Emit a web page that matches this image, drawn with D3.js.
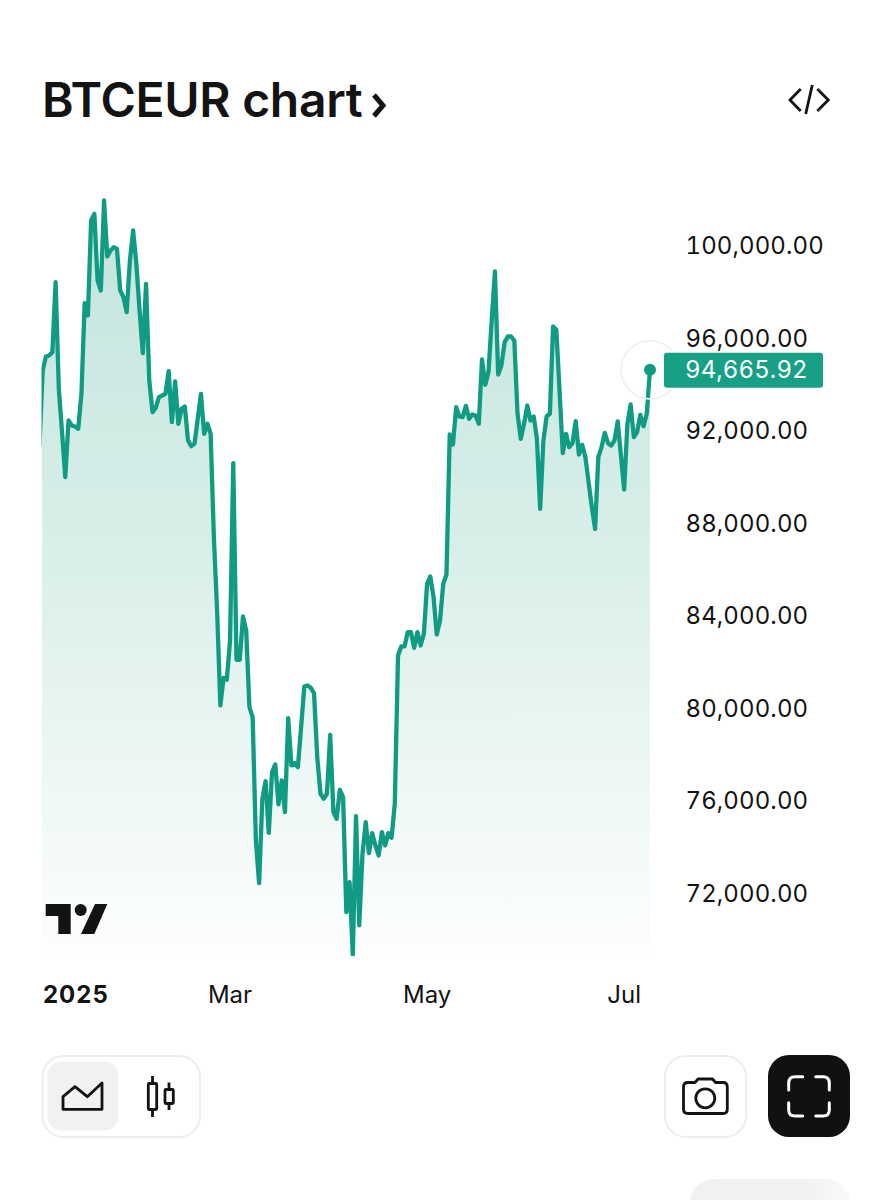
<!DOCTYPE html>
<html>
<head>
<meta charset="utf-8">
<script src="https://cdnjs.cloudflare.com/ajax/libs/d3/7.8.5/d3.min.js"></script>
<style>
  html, body { margin: 0; padding: 0; background: #fff; }
  svg { display: block; }
  text { font-family: Inter, "Noto Sans", sans-serif; fill: #131313; }
</style>
</head>
<body>
<svg id="chart"></svg>
<script>
// daily closes, first one sits just outside the left edge
const firstDay = new Date(2025, 0, 1);
const closes = [
  91300,
  94596, 95201, 95244, 95388, 98415, 93803, 91929, 89983, 92434, 92217,
  92174, 92073, 93587, 97507, 96974, 101081, 101370, 98487, 98055, 101946,
  99525, 99784, 99928, 99856, 98055, 97766, 97118, 99352, 100649, 99208,
  97190, 95345, 98343, 94163, 92794, 92981, 93443, 93515, 93587, 94567,
  92362, 94120, 92290, 92938, 93039, 91569, 91324, 91425, 92506, 93587,
  91857, 92290, 91857, 87374, 84217, 80110, 81306, 81220, 82921, 90588,
  82085, 82085, 83958, 83353, 80038, 79606, 74273, 72428, 76074, 76838,
  74604, 77227, 77559, 75830, 76867, 75498, 79562, 77516, 77617, 77444,
  79173, 80932, 80975, 80874, 80643, 77876, 76291, 76074, 76291, 78842,
  75498, 75210, 76464, 76146, 71174, 72471, 69344, 75325, 70597, 73696,
  75066, 73725, 74590, 74057, 73624, 74633, 74057, 74590, 74388, 75858,
  82272, 82661, 82661, 83281, 83281, 82603, 83281, 82704, 83209, 85371,
  85688, 84794, 83180, 83785, 85371, 85774, 91828, 91395, 93009, 92606,
  92577, 93067, 92505, 92692, 92649, 92289, 95070, 93975, 94523, 96757,
  98875, 94422, 94811, 95820, 96065, 96065, 95892, 92721, 91640, 92289,
  93081, 92433, 92606, 91640, 88613, 91568, 92620, 92721, 96497, 96368,
  93730, 91020, 91856, 91280, 91453, 92404, 90963, 91381, 90847, 89766,
  88685, 87749, 90847, 91280, 91899, 91453, 91352, 91568, 92390, 90919,
  89449, 92289, 93125, 91712, 91928, 92678, 92188, 92721, 94665.92
];
const priceTicks = [72000, 76000, 80000, 84000, 88000, 92000, 96000, 100000];
const monthTicks = [new Date(2025, 2, 1), new Date(2025, 4, 1), new Date(2025, 6, 1)];
const yearLabel = "2025";
const title = "BTCEUR chart";

const series = closes.map((c, i) => ({ date: d3.timeDay.offset(firstDay, i), close: c }));
const last = series[series.length - 1];

const width = 892, height = 1200;
const plot = { left: 42, right: 650, top: 190, bottom: 955 };

const svg = d3.select("#chart").attr("width", width).attr("height", height);

const x = d3.scaleTime()
  .domain([series[1].date, last.date])
  .range([42.67, 650]);
const y = d3.scaleLinear()
  .domain([72000, 100000])
  .range([893, 245.5]);

const defs = svg.append("defs");
const grad = defs.append("linearGradient")
  .attr("id", "fade")
  .attr("gradientUnits", "userSpaceOnUse")
  .attr("x1", 0).attr("x2", 0)
  .attr("y1", plot.top).attr("y2", plot.bottom);
grad.append("stop").attr("offset", "0%").attr("stop-color", "#c2e4dc");
grad.append("stop").attr("offset", "45%").attr("stop-color", "#d8eee9");
grad.append("stop").attr("offset", "100%").attr("stop-color", "#fdfefe");

defs.append("clipPath").attr("id", "areaClip").append("rect")
  .attr("x", plot.left).attr("y", 0)
  .attr("width", plot.right - plot.left).attr("height", plot.bottom);
defs.append("clipPath").attr("id", "lineClip").append("rect")
  .attr("x", plot.left - 0.5).attr("y", 0)
  .attr("width", plot.right - plot.left + 4).attr("height", plot.bottom + 1);

const area = d3.area()
  .x(d => x(d.date))
  .y0(plot.bottom)
  .y1(d => y(d.close));
const line = d3.line()
  .x(d => x(d.date))
  .y(d => y(d.close));

svg.append("path")
  .datum(series)
  .attr("d", area)
  .attr("fill", "url(#fade)")
  .attr("clip-path", "url(#areaClip)");

svg.append("path")
  .datum(series)
  .attr("d", line)
  .attr("fill", "none")
  .attr("stroke", "#109c82")
  .attr("stroke-width", 4.3)
  .attr("stroke-linejoin", "round")
  .attr("clip-path", "url(#lineClip)");

// price axis
const yAxis = svg.append("g")
  .attr("transform", "translate(685.5,0)")
  .call(d3.axisRight(y).tickValues(priceTicks).tickSize(0).tickPadding(0).tickFormat(d3.format(",.2f")));
yAxis.select(".domain").remove();
yAxis.selectAll("text")
  .style("font-size", "24px")
  .style("font-variant-numeric", "tabular-nums")
  .style("letter-spacing", "0.1px")
  .attr("dy", "0.34em");

// time axis
const xAxis = svg.append("g")
  .attr("transform", "translate(-0.5,986)")
  .call(d3.axisBottom(x).tickValues(monthTicks).tickSize(0).tickPadding(0).tickFormat(d3.timeFormat("%b")));
xAxis.select(".domain").remove();
xAxis.selectAll("text")
  .style("font-size", "24px")
  .attr("dy", "0.71em")
  .attr("y", 0);

svg.append("text")
  .attr("x", 43).attr("y", 1003)
  .style("font-size", "24px").style("font-weight", 700).style("letter-spacing", "1px")
  .text(yearLabel);

// last price marker
svg.append("circle")
  .attr("cx", x(last.date)).attr("cy", y(last.close) + 1).attr("r", 29)
  .attr("fill", "none").attr("stroke", "#f0f0f0").attr("stroke-width", 1.6);
svg.append("circle")
  .attr("cx", x(last.date)).attr("cy", y(last.close) + 1).attr("r", 6)
  .attr("fill", "#109c82");
svg.append("rect")
  .attr("x", 664).attr("y", y(last.close) - 16)
  .attr("width", 159).attr("height", 35).attr("rx", 3)
  .attr("fill", "#17a086");
svg.append("text")
  .attr("x", 685).attr("y", y(last.close) + 1).attr("dy", "0.36em")
  .style("font-size", "24px").style("font-variant-numeric", "tabular-nums")
  .style("letter-spacing", "0.1px").style("fill", "#fff")
  .text(d3.format(",.2f")(last.close));

// header
svg.append("text")
  .attr("x", 42).attr("y", 117)
  .style("font-size", "48px").style("font-weight", 600).style("letter-spacing", "-0.3px")
  .text(title);
svg.append("path")
  .attr("d", "M374,95L383,105.5L374,116")
  .attr("fill", "none").attr("stroke", "#131313").attr("stroke-width", 5);
svg.append("path")
  .attr("d", "M800.7,89L790,100L800.7,111M812.3,85L805.7,114M817.3,89L828.3,100L817.3,111")
  .attr("fill", "none").attr("stroke", "#131313").attr("stroke-width", 2.8);

// tradingview mark
const logo = svg.append("g").attr("fill", "#131313");
logo.append("path").attr("d", "M45.7,904H70.7V934H58.3V916H45.7Z");
logo.append("circle").attr("cx", 80.7).attr("cy", 910).attr("r", 6);
logo.append("path").attr("d", "M95,904H107.3L94.3,934H81Z");

// bottom buttons
const icons = svg.append("g");
icons.append("rect")
  .attr("x", 42.5).attr("y", 1056).attr("width", 157.5).attr("height", 81).attr("rx", 21)
  .attr("fill", "#fff").attr("stroke", "#ededed").attr("stroke-width", 2);
icons.append("rect")
  .attr("x", 47.5).attr("y", 1061.5).attr("width", 71).attr("height", 69).attr("rx", 14)
  .attr("fill", "#f1f1f1");
icons.append("path")
  .attr("d", "M63,1109.3V1096.7L75,1086.7L87.3,1096.7L102,1083V1109.3Z")
  .attr("fill", "none").attr("stroke", "#131313").attr("stroke-width", 2.8).attr("stroke-linejoin", "round");
icons.append("path")
  .attr("d", "M152.5,1076V1083.5M152.5,1109.5V1117M169,1082.5V1089.5M169,1103.5V1110")
  .attr("fill", "none").attr("stroke", "#131313").attr("stroke-width", 2.8);
icons.append("rect")
  .attr("x", 148.3).attr("y", 1083.5).attr("width", 8.4).attr("height", 26).attr("rx", 1)
  .attr("fill", "none").attr("stroke", "#131313").attr("stroke-width", 2.8);
icons.append("rect")
  .attr("x", 165).attr("y", 1089.5).attr("width", 8.3).attr("height", 14).attr("rx", 1)
  .attr("fill", "none").attr("stroke", "#131313").attr("stroke-width", 2.8);

icons.append("rect")
  .attr("x", 665).attr("y", 1056).attr("width", 81).attr("height", 81).attr("rx", 21)
  .attr("fill", "#fff").attr("stroke", "#ededed").attr("stroke-width", 2);
icons.append("path")
  .attr("d", "M688,1082.5H695L698,1079H712.5L715.5,1082.5H723Q727.3,1082.5 727.3,1087V1109Q727.3,1113.5 723,1113.5H688Q683.5,1113.5 683.5,1109V1087Q683.5,1082.5 688,1082.5Z")
  .attr("fill", "none").attr("stroke", "#131313").attr("stroke-width", 2.8).attr("stroke-linejoin", "round");
icons.append("circle")
  .attr("cx", 705.3).attr("cy", 1098.3).attr("r", 9.5)
  .attr("fill", "none").attr("stroke", "#131313").attr("stroke-width", 2.8);

icons.append("rect")
  .attr("x", 768).attr("y", 1055).attr("width", 82).attr("height", 82).attr("rx", 21)
  .attr("fill", "#111");
icons.append("path")
  .attr("d", "M788.7,1090V1083Q788.7,1076.7 795,1076.7H802.7M815.7,1076.7H823Q829.3,1076.7 829.3,1083V1090M788.7,1102.7V1110Q788.7,1116 795,1116H802.7M815.7,1116H823Q829.3,1116 829.3,1110V1102.7")
  .attr("fill", "none").attr("stroke", "#fff").attr("stroke-width", 3).attr("stroke-linecap", "round");

// cut off panel at the very bottom
const tail = defs.append("linearGradient").attr("id", "tail");
tail.append("stop").attr("offset", "70%").attr("stop-color", "#f1f1f1");
tail.append("stop").attr("offset", "100%").attr("stop-color", "#fafafa");
svg.append("rect")
  .attr("x", 690).attr("y", 1179).attr("width", 160).attr("height", 50).attr("rx", 24)
  .attr("fill", "url(#tail)");
</script>
</body>
</html>
